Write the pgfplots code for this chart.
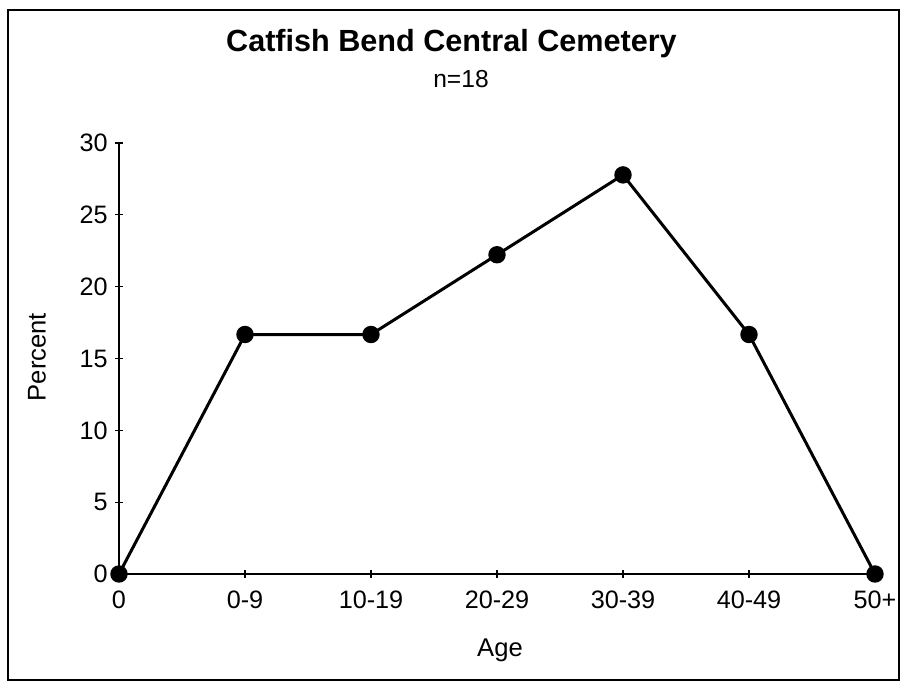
\documentclass[border=0pt]{standalone}
\usepackage{fontspec}
\setmainfont{Liberation Sans}
\usepackage{pgfplots}
\pgfplotsset{compat=1.18}
\begin{document}
\begin{tikzpicture}
\begin{axis}[
  at={(0,0)}, anchor=south west,
  scale only axis, width=378pt, height=215.5pt,
  xmin=0, xmax=6, ymin=0, ymax=30,
  axis lines*=left,
  axis line style={line width=0.8pt},
  tick style={line width=0.6pt, black},
  tick align=center, major tick length=4pt,
  xtick={0,1,2,3,4,5,6},
  xticklabels={0,0-9,10-19,20-29,30-39,40-49,50+},
  ytick={0,5,10,15,20,25,30},
  /pgf/number format/assume math mode=true,
  tick label style={font=\fontsize{12.6}{15}\selectfont},
  xticklabel style={anchor=base, yshift=-15.5pt},
  yticklabel style={anchor=east, xshift=-1.5pt, inner sep=2pt},
  clip=false,
]
\addplot[black, line width=1.5pt, mark=*, mark size=3.6pt, mark options={fill=black}]
  coordinates {(0,0) (1,16.67) (2,16.67) (3,22.22) (4,27.78) (5,16.67) (6,0)};
\end{axis}
\node[font=\bfseries\fontsize{15.3}{18}\selectfont, anchor=base] at (166.25pt,261pt) {Catfish Bend Central Cemetery};
\node[font=\fontsize{12.3}{15}\selectfont, anchor=base] at (171pt,243pt) {n=18};
\node[font=\fontsize{12.8}{15}\selectfont, rotate=90] at (-41pt,108.5pt) {Percent};
\node[font=\fontsize{12.8}{15}\selectfont, anchor=base] at (190.5pt,-41.5pt) {Age};
\draw[line width=0.8pt] (-55.5pt,-53pt) rectangle (390pt,282pt);
\pgfresetboundingbox
\path[use as bounding box] (-59.5pt,-54.5pt) rectangle (392.5pt,287pt);
\end{tikzpicture}
\end{document}
